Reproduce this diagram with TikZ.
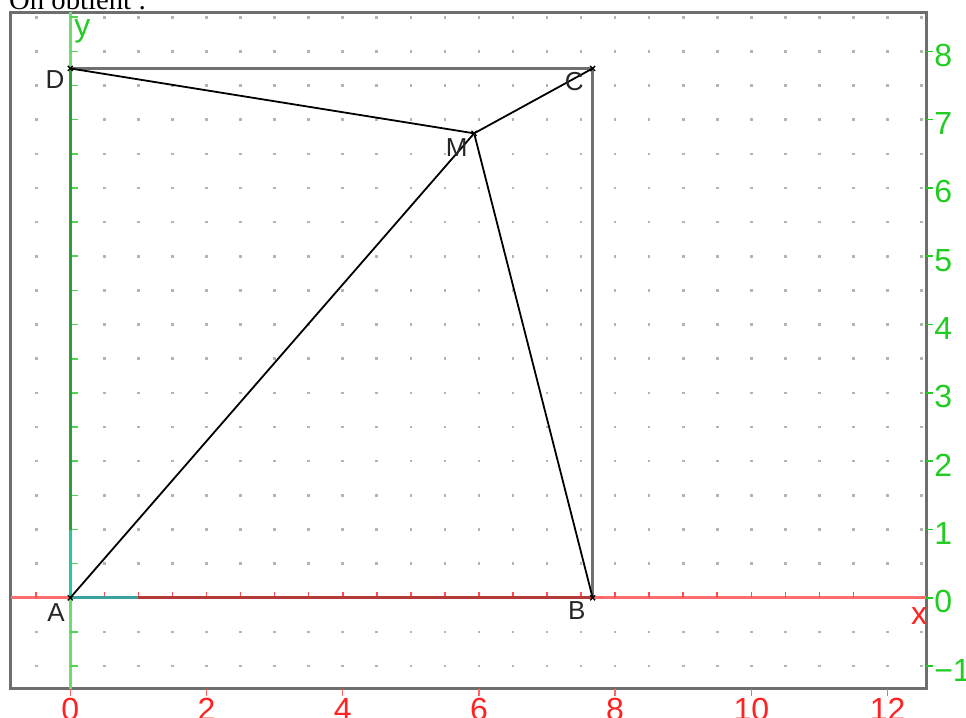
\documentclass[tikz,border=0pt]{standalone}
\usepackage{fontspec}
\setmainfont{Liberation Serif}
\newfontfamily\lab{Liberation Sans}
\definecolor{frm}{HTML}{6E6E6E}
\definecolor{sq}{HTML}{707070}
\definecolor{dotc}{HTML}{B4B4B4}
\definecolor{xax}{HTML}{FF6E6E}
\definecolor{yax}{HTML}{70DC70}
\definecolor{abc}{HTML}{B43A3A}
\definecolor{adc}{HTML}{2E9E3A}
\definecolor{uxc}{HTML}{3AA0A0}
\definecolor{uyc}{HTML}{22C8A0}
\definecolor{numg}{HTML}{22CC22}
\definecolor{numr}{HTML}{FF2222}
\tikzset{
  frame/.style={draw=frm,line width=3pt},
  xaxis/.style={draw=xax,line width=3pt},
  yaxis/.style={draw=yax,line width=3pt},
  xtick/.style={draw=numr!80,line width=1.6pt},
  ytick/.style={draw=numg!80,line width=1.6pt},
  sqline/.style={draw=sq,line width=2.8pt},
  seg/.style={draw=black,line width=1.8pt},
  ptlab/.style={font=\lab\fontsize{26}{30}\selectfont,inner sep=0pt,text=black!85},
  axnum/.style={font=\lab\fontsize{32}{36}\selectfont,inner sep=0pt},
  cross/.style={draw=black,line width=1.3pt}
}
\begin{document}
\begin{tikzpicture}[x=68.1pt,y=68.3pt]
\useasboundingbox (-1.032,-1.745) rectangle (13.152,8.752);
\clip (-1.032,-1.745) rectangle (13.152,8.752);
% title
\node[anchor=base west,inner sep=0pt,font=\fontsize{28.7}{32}\selectfont] (title) at (-0.900,8.613) {On obtient :};
% dots
\foreach \i in {-1,...,25}{
  \foreach \j in {-2,...,17}{
    \fill[dotc] ({\i/2},{\j/2}) ++(-1.3pt,-1.3pt) rectangle ++(2.6pt,2.6pt);
  }
}
% frame
\draw[frame] (-0.871,-1.335) rectangle (12.566,8.572);
% axes
\coordinate (xl) at (-0.871,0);
\coordinate (xr) at (12.566,0);
\coordinate (yb) at (0,-1.335);
\coordinate (yt) at (0,8.572);
\draw[xaxis] (xl) -- (xr);
\draw[yaxis] (yb) -- (yt);
% ticks on axes
\foreach \i in {-1,1,2,...,23}{
  \draw[xtick] ({\i/2},0) -- ++(0,6pt);
}
\foreach \j in {-2,-1,1,2,...,17}{
  \draw[ytick] (0,{\j/2}) -- ++(8pt,0);
}
% points
\coordinate (A) at (0,0);
\coordinate (B) at (7.67,0);
\coordinate (C) at (7.67,7.75);
\coordinate (D) at (0,7.75);
\coordinate (M) at (5.93,6.80);
\coordinate (I) at (1,0);
\coordinate (J) at (0,1);
% colored sides on axes
\draw[draw=abc,line width=3pt] (A) -- (B);
\draw[draw=adc,line width=3pt] (A) -- (D);
\draw[draw=uxc,line width=3pt] (A) -- (I);
\draw[draw=uyc,line width=3pt] (A) -- (J);
% square sides
\draw[sqline] (D) -- (C) -- (B);
% segments
\draw[seg] (A) -- (M);
\draw[seg] (D) -- (M);
\draw[seg] (M) -- (C);
\draw[seg] (B) -- (M);
% crosses
\foreach \p in {A,B,C,D,M}{
  \draw[cross] (\p) ++(-2.5pt,-2.5pt) -- ++(5pt,5pt);
  \draw[cross] (\p) ++(-2.5pt,2.5pt) -- ++(5pt,-5pt);
}
% point labels
\node[ptlab] (lA) at (-0.21,-0.218) {A};
\node[ptlab] (lB) at (7.436,-0.193) {B};
\node[ptlab] (lC) at (7.40,7.552) {C};
\node[ptlab] (lD) at (-0.225,7.58) {D};
\node[ptlab] (lM) at (5.673,6.585) {M};
% axis names
\node[axnum,text=numg,anchor=base] (ly) at (0.179,8.215) {y};
\node[axnum,text=numr] (lx) at (12.462,-0.274) {x};
% right labels
\foreach \j/\t in {-1/{−1},0/0,1/1,2/2,3/3,4/4,5/5,6/6,7/7,8/8}{
  \draw[draw=numg,line width=1.6pt] (12.566,\j) -- (12.669,\j);
  \node[axnum,text=numg,anchor=west,yshift=-4pt] (r\j) at (12.683,\j) {\t};
}
% bottom labels
\foreach \i in {0,2,4,6,8,10,12}{
  \draw[draw=numr!70,line width=1.4pt] (\i,-1.335) -- ++(0,-7pt);
  \node[axnum,text=numr,anchor=north] (b\i) at (\i,-1.467) {\i};
}
\end{tikzpicture}
\end{document}
